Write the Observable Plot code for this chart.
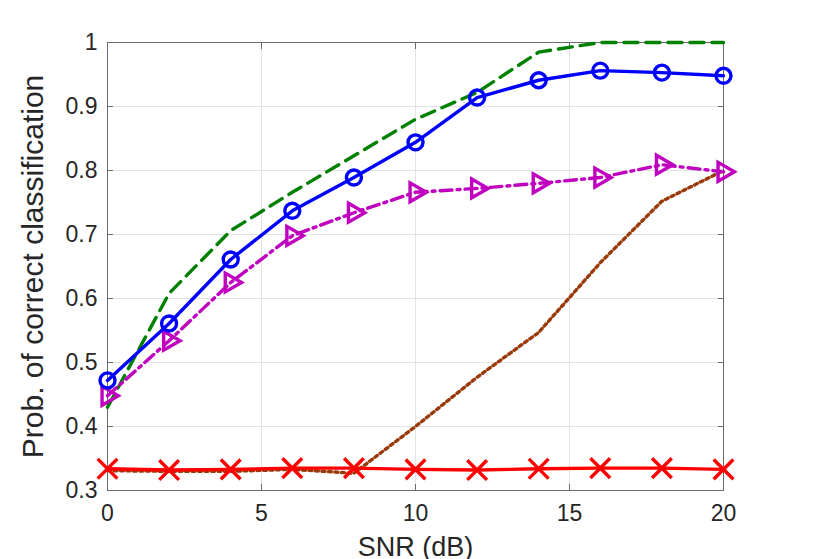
<!DOCTYPE html>
<html>
<head>
<meta charset="utf-8">
<script src="https://cdn.jsdelivr.net/npm/d3@7"></script>
<script src="https://cdn.jsdelivr.net/npm/@observablehq/plot@0.6"></script>
<style>
  html, body { margin: 0; padding: 0; background: #fff; }
  #chart svg { display: block; }
</style>
</head>
<body>
<div id="chart"></div>
<script>
const snr = [0, 2, 4, 6, 8, 10, 12, 14, 16, 18, 20];
const blueCircle = [0.472, 0.561, 0.661, 0.737, 0.789, 0.844, 0.914, 0.941, 0.956, 0.953, 0.948];
const greenDashed = [0.43, 0.608, 0.706, 0.766, 0.823, 0.88, 0.922, 0.985, 1.0, 1.0, 1.0];
const magentaTriangle = [0.448, 0.534, 0.625, 0.698, 0.734, 0.766, 0.772, 0.78, 0.789, 0.809, 0.798];
const brownDotted = [0.331, 0.330, 0.330, 0.333, 0.327, 0.40, 0.477, 0.547, 0.656, 0.752, 0.80];
const redCross = [0.334, 0.332, 0.333, 0.335, 0.335, 0.333, 0.332, 0.334, 0.335, 0.335, 0.333];

const xTicks = [0, 5, 10, 15, 20];
const yTicks = [0.3, 0.4, 0.5, 0.6, 0.7, 0.8, 0.9, 1];
const xLabel = "SNR (dB)";
const yLabel = "Prob. of correct classification";

const toRows = (vals) => snr.map((x, i) => ({x, y: vals[i]}));
const blue = toRows(blueCircle);
const green = toRows(greenDashed);
const magenta = toRows(magentaTriangle);
const brown = toRows(brownDotted);
const red = toRows(redCross);

const textColor = "#262626";
const axisColor = "#6b6b6b";
const lw = 3.4;

const chart = Plot.plot({
  width: 830,
  height: 559,
  marginLeft: 107,
  marginRight: 107,
  marginTop: 42,
  marginBottom: 69,
  style: {fontFamily: "'Liberation Sans', Arial, Helvetica, sans-serif", color: textColor, background: "#fff"},
  x: {domain: [0, 20]},
  y: {domain: [0.3, 1]},
  marks: [
    Plot.gridX(xTicks, {stroke: "#e3e3e3", strokeOpacity: 1}),
    Plot.gridY(yTicks, {stroke: "#e3e3e3", strokeOpacity: 1}),
    Plot.frame({stroke: axisColor}),
    Plot.axisX(xTicks, {anchor: "bottom", tickSize: -6, stroke: axisColor, tickPadding: 20, fontSize: 23, fill: textColor,
      tickFormat: d => String(d), label: xLabel, labelAnchor: "center", labelArrow: "none", labelOffset: 65}),
    Plot.axisX(xTicks, {anchor: "top", tickSize: -6, stroke: axisColor, tickFormat: () => "", label: null}),
    Plot.axisY(yTicks, {anchor: "left", tickSize: -6, stroke: axisColor, tickPadding: 16, fontSize: 23, fill: textColor,
      tickFormat: d => String(d), label: yLabel, labelAnchor: "center", labelArrow: "none", labelOffset: 86}),
    Plot.axisY(yTicks, {anchor: "right", tickSize: -6, stroke: axisColor, tickFormat: () => "", label: null}),

    Plot.line(brown, {x: "x", y: "y", stroke: "#9a3a0a", strokeWidth: lw, strokeDasharray: "3,3.5"}),
    Plot.line(green, {x: "x", y: "y", stroke: "#008000", strokeWidth: lw, strokeDasharray: "14,8"}),
    Plot.line(magenta, {x: "x", y: "y", stroke: "#bf00bf", strokeWidth: lw, strokeDasharray: "12,5,3,5"}),
    Plot.dot(magenta, {x: "x", y: "y", symbol: "triangle", rotate: 90, r: 7, stroke: "#bf00bf", strokeWidth: lw, fill: "none"}),
    Plot.line(blue, {x: "x", y: "y", stroke: "#0000ff", strokeWidth: lw}),
    Plot.dot(blue, {x: "x", y: "y", symbol: "circle", r: 7.5, stroke: "#0000ff", strokeWidth: lw, fill: "none"}),
    Plot.line(red, {x: "x", y: "y", stroke: "#ff0000", strokeWidth: lw}),
    Plot.dot(red, {x: "x", y: "y", symbol: "times", r: 9, stroke: "#ff0000", strokeWidth: lw})
  ]
});
chart.querySelectorAll("[aria-label='x-axis label'] text, [aria-label='x-axis label']").forEach(n => n.setAttribute("font-size", 27));
chart.querySelectorAll("[aria-label='y-axis label'] text, [aria-label='y-axis label']").forEach(n => n.setAttribute("font-size", 30));
document.getElementById("chart").appendChild(chart);
</script>
</body>
</html>
